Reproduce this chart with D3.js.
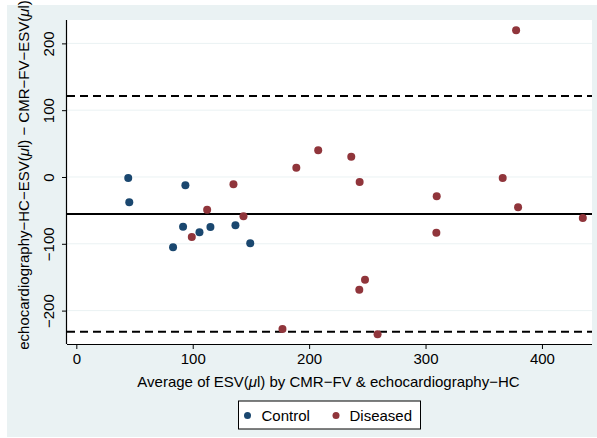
<!DOCTYPE html>
<html>
<head>
<meta charset="utf-8">
<script src="https://cdn.jsdelivr.net/npm/d3@7"></script>
<style>
html,body{margin:0;padding:0;background:#fff;}
svg{display:block;font-family:"Liberation Sans",Arial,Helvetica,sans-serif;}
</style>
</head>
<body>
<svg id="chart" width="597" height="438"></svg>
<script>
// Data (x = average ESV, y = difference)
const controlX = [44.6, 45.5, 93.7, 83.1, 91.7, 105.8, 115.2, 136.7, 149.4];
const controlY = [-1.5, -37.9, -12.4, -105, -74.4, -82.8, -74.9, -72.3, -99.3];
const diseasedX = [112.4, 135, 143.6, 99.2, 177.1, 189, 207.8, 236.2, 243.4, 309.6, 366.3, 377.8, 379.5, 435.1, 309.3, 248, 243.1, 258.8];
const diseasedY = [-48.9, -11, -58.8, -89.8, -227.5, 13.9, 40, 30.4, -7.5, -28.9, -1.5, 219.6, -45.4, -61.4, -83.4, -153.7, -168.7, -235.5];
const seriesNames = ["Control", "Diseased"];
const xTicks = [0, 100, 200, 300, 400];
const yTicks = [-200, -100, 0, 100, 200];
const meanDiff = -55.3;
const limits = [121.3, -231.7];

const colors = {Control: "#1a476f", Diseased: "#90353b"};
const FS = 15;
const svg = d3.select("#chart");

// outer background
svg.append("rect").attr("x", 7).attr("y", 5).attr("width", 590).attr("height", 432).attr("fill", "#eaf2f3");

const L = 67, R = 592, T = 20, B = 344;
svg.append("rect").attr("x", L).attr("y", T).attr("width", R - L).attr("height", B - T).attr("fill", "#fff");

const x = d3.scaleLinear().domain([-8, 443]).range([L, R]);
const y = d3.scaleLinear().domain([-250, 235]).range([B, T]);

// gridlines
svg.append("g").selectAll("line").data(yTicks).join("line")
  .attr("x1", L).attr("x2", R)
  .attr("y1", d => y(d)).attr("y2", d => y(d))
  .attr("stroke", "#eaf2f3").attr("stroke-width", 1);

// mean line and limits
svg.append("line").attr("x1", L).attr("x2", R)
  .attr("y1", y(meanDiff)).attr("y2", y(meanDiff))
  .attr("stroke", "#000").attr("stroke-width", 2);
svg.append("g").selectAll("line").data(limits).join("line")
  .attr("x1", L).attr("x2", R)
  .attr("y1", d => y(d)).attr("y2", d => y(d))
  .attr("stroke", "#000").attr("stroke-width", 2).attr("stroke-dasharray", "8,5");

// axes
const xAxis = svg.append("g").attr("transform", `translate(0,${B})`)
  .call(d3.axisBottom(x).tickValues(xTicks).tickSize(5).tickPadding(4));
xAxis.select(".domain").attr("d", `M${L},0.5H${R}`).attr("stroke", "#000").attr("stroke-width", 1.2);
xAxis.selectAll("text").attr("font-size", FS).attr("fill", "#000").attr("font-family", "Liberation Sans, Arial, sans-serif");

const yAxis = svg.append("g").attr("transform", `translate(${L},0)`)
  .call(d3.axisLeft(y).tickValues(yTicks).tickSize(5).tickFormat(d3.format("d")));
yAxis.select(".domain").attr("d", `M-0.5,${T}V${B}`).attr("stroke", "#000").attr("stroke-width", 1.2);
yAxis.selectAll("text")
  .attr("font-size", FS).attr("fill", "#000").attr("font-family", "Liberation Sans, Arial, sans-serif")
  .attr("x", null).attr("dy", null)
  .attr("text-anchor", "middle")
  .attr("transform", "translate(-13,0) rotate(-90)");

// points
const pts = [];
controlX.forEach((v, i) => pts.push({s: "Control", x: v, y: controlY[i]}));
diseasedX.forEach((v, i) => pts.push({s: "Diseased", x: v, y: diseasedY[i]}));
svg.append("g").selectAll("circle").data(pts).join("circle")
  .attr("cx", d => x(d.x)).attr("cy", d => y(d.y)).attr("r", 4)
  .attr("fill", d => colors[d.s]);

// axis titles
const xt = svg.append("text").attr("x", (L + R) / 2 - 1).attr("y", 387)
  .attr("text-anchor", "middle").attr("font-size", FS).attr("fill", "#000");
xt.append("tspan").text("Average of ESV(");
xt.append("tspan").attr("font-style", "italic").text("μ");
xt.append("tspan").text("l) by CMR\u2212FV & echocardiography\u2212HC");

const yt = svg.append("text").attr("transform", `translate(29,${(T + B) / 2 - 7}) rotate(-90)`)
  .attr("text-anchor", "middle").attr("font-size", FS).attr("fill", "#000");
yt.append("tspan").text("echocardiography\u2212HC\u2212ESV(");
yt.append("tspan").attr("font-style", "italic").text("μ");
yt.append("tspan").text("l) \u2212 CMR\u2212FV\u2212ESV(");
yt.append("tspan").attr("font-style", "italic").text("μ");
yt.append("tspan").text("l)");

// legend
const lg = svg.append("g");
lg.append("rect").attr("x", 238.5).attr("y", 401).attr("width", 182).attr("height", 28)
  .attr("fill", "#fff").attr("stroke", "#000").attr("stroke-width", 1);
const legDot = [247.5, 336];
const legText = [261.5, 349.5];
seriesNames.forEach((n, i) => {
  lg.append("circle").attr("cx", legDot[i]).attr("cy", 415.5).attr("r", 3.5).attr("fill", colors[n]);
  lg.append("text").attr("x", legText[i]).attr("y", 421).attr("font-size", 15).attr("fill", "#000").text(n);
});
</script>
</body>
</html>
